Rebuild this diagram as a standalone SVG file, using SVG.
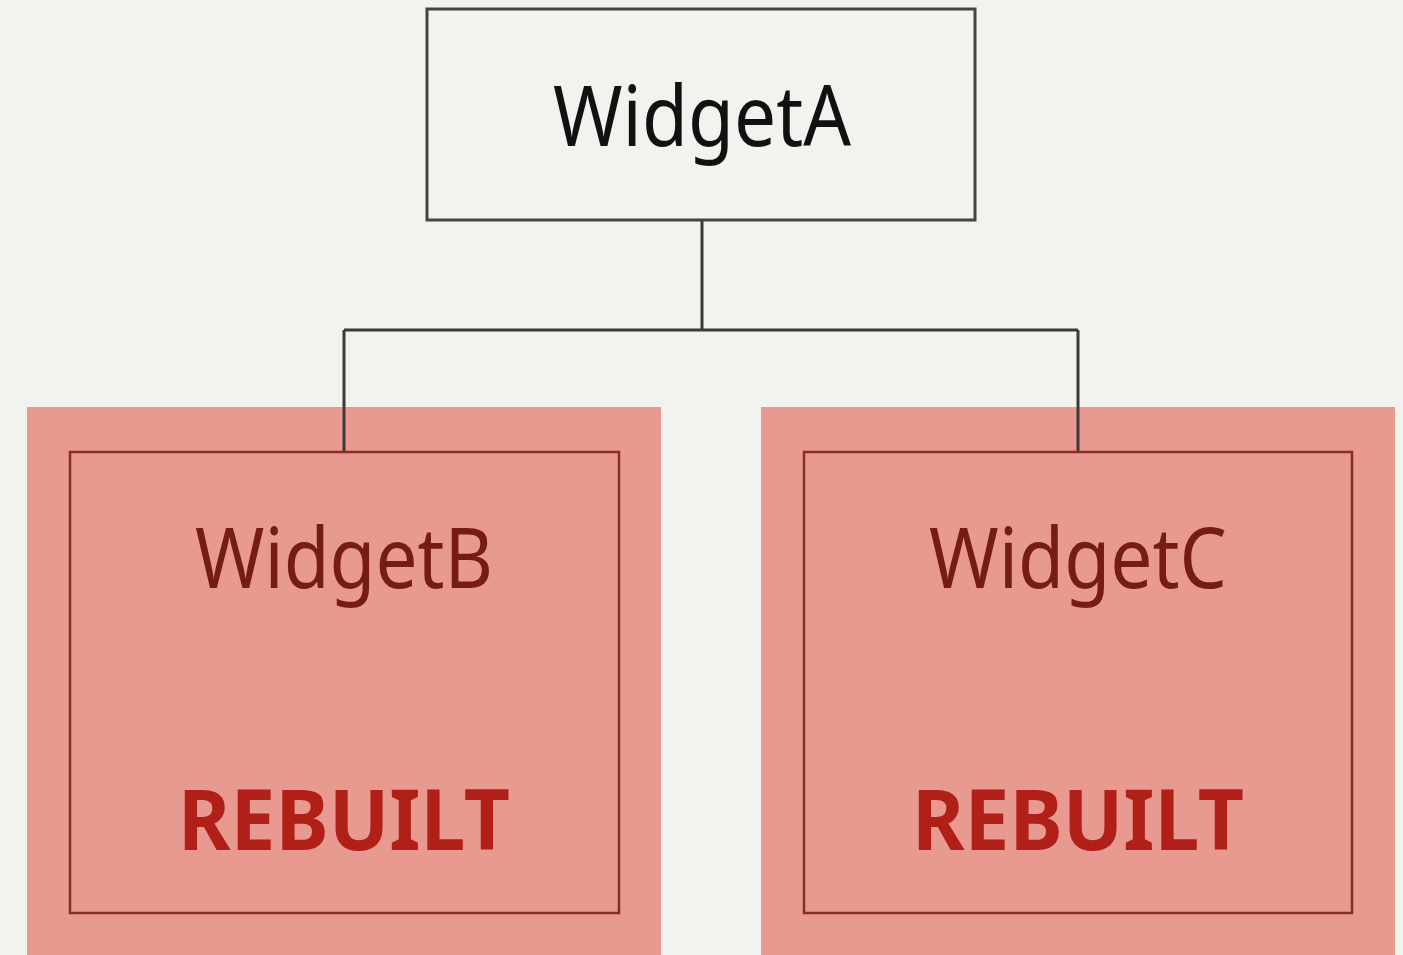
<svg xmlns="http://www.w3.org/2000/svg" width="1403" height="955" viewBox="0 0 1403 955">
  <style>
    .label { font-family: "Noto Sans", "Open Sans", sans-serif; font-size: 84px; text-anchor: middle; }
    .root-box { fill: #f2f2ee; stroke: #444441; stroke-width: 3; }
    .highlight { fill: #e99a90; }
    .child-box { fill: none; stroke: #8a2c25; stroke-width: 2.5; }
    .child-label { fill: #761c16; }
    .status { font-weight: bold; fill: #b01f18; font-size: 84px; }
    .link { fill: none; stroke: #3a3a38; stroke-width: 3; }
  </style>
  <rect width="1403" height="955" fill="#f2f2ee"/>

  <!-- highlighted backdrops of the rebuilt children -->
  <rect class="highlight" x="27" y="407" width="634" height="548"/>
  <rect class="highlight" x="761" y="407" width="634" height="548"/>

  <g id="connectors">
    <path class="link" d="M702 220 V330 M344 330 H1078 M344 330 V452 M1078 330 V452"/>
  </g>

  <g id="widgetA">
    <rect class="root-box" x="427" y="9" width="548" height="211"/>
    <text class="label" x="702" y="146" fill="#111" textLength="298" lengthAdjust="spacingAndGlyphs">WidgetA</text>
  </g>

  <g id="widgetB">
    <rect class="child-box" x="70" y="452" width="549" height="461"/>
    <text class="label child-label" x="344" y="588" textLength="298" lengthAdjust="spacingAndGlyphs">WidgetB</text>
    <text class="label status" x="344" y="850" textLength="332" lengthAdjust="spacingAndGlyphs">REBUILT</text>
  </g>

  <g id="widgetC">
    <rect class="child-box" x="804" y="452" width="548" height="461"/>
    <text class="label child-label" x="1078" y="588" textLength="298" lengthAdjust="spacingAndGlyphs">WidgetC</text>
    <text class="label status" x="1078" y="850" textLength="332" lengthAdjust="spacingAndGlyphs">REBUILT</text>
  </g>
</svg>
